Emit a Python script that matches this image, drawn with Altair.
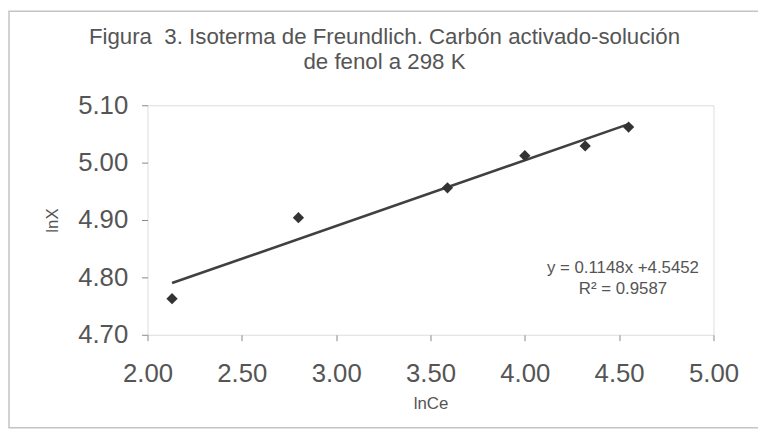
import altair as alt
import pandas as pd

# Data
lnCe = [2.13, 2.80, 3.59, 4.00, 4.32, 4.55]
lnX = [4.763, 4.904, 4.956, 5.012, 5.029, 5.062]
x_ticks = [2.0, 2.5, 3.0, 3.5, 4.0, 4.5, 5.0]
y_ticks = [4.70, 4.80, 4.90, 5.00, 5.10]
eq_lines = ["y = 0.1148x +4.5452", "R\u00b2 = 0.9587"]
eq_pos_x = [4.52, 4.52]
eq_pos_y = [4.817, 4.779]
title_line1 = "Figura \u00a03. Isoterma de Freundlich. Carbón activado-solución"
title_line2 = "de fenol a 298 K"

df = pd.DataFrame({"lnCe": lnCe, "lnX": lnX})
eq_df = pd.DataFrame({"t": eq_lines, "x": eq_pos_x, "y": eq_pos_y})

FONT = "Liberation Sans"
GRAY = "#555555"

xs = alt.Scale(domain=[2.0, 5.0], nice=False, zero=False)
ys = alt.Scale(domain=[4.70, 5.10], nice=False, zero=False)

xaxis = alt.Axis(values=x_ticks, format=".2f", title="lnCe", labelFontSize=26,
                 labelFont=FONT, labelColor=GRAY, titleFont=FONT, titleFontSize=17,
                 titleColor=GRAY, titleFontWeight="normal", grid=False, domain=False,
                 labelFlush=False, labelOverlap=False,
                 tickColor="#888888", tickSize=6, labelPadding=20, titlePadding=10)
yaxis = alt.Axis(values=y_ticks, format=".2f", title="lnX", labelFontSize=26,
                 labelFont=FONT, labelColor=GRAY, titleFont=FONT, titleFontSize=17,
                 titleColor=GRAY, titleFontWeight="normal", grid=False, domain=False,
                 labelFlush=False, labelOverlap=False,
                 tickColor="#888888", tickSize=6, labelPadding=14, titlePadding=16)

base = alt.Chart(df)

points = base.mark_point(shape="diamond", filled=True, size=130, color="#333333",
                         opacity=1).encode(
    x=alt.X("lnCe:Q", scale=xs, axis=xaxis),
    y=alt.Y("lnX:Q", scale=ys, axis=yaxis),
)

trend = base.transform_regression("lnCe", "lnX", method="linear").mark_line(
    color="#404040", strokeWidth=2.6).encode(
    x=alt.X("lnCe:Q", scale=xs),
    y=alt.Y("lnX:Q", scale=ys),
)

eq = alt.Chart(eq_df).mark_text(font=FONT, fontSize=17, color=GRAY,
                                align="center", baseline="middle").encode(
    x=alt.X("x:Q", scale=xs),
    y=alt.Y("y:Q", scale=ys),
    text="t:N",
)

one = pd.DataFrame({"a": [0]})
t1 = alt.Chart(one).mark_text(font=FONT, fontSize=22.5, color=GRAY, align="center",
                              baseline="alphabetic", text=title_line1).encode(
    x=alt.value(239.5), y=alt.value(-62))
t2 = alt.Chart(one).mark_text(font=FONT, fontSize=22.5, color=GRAY, align="center",
                              baseline="alphabetic", text=title_line2).encode(
    x=alt.value(239.5), y=alt.value(-37))

frame = alt.Chart(one).mark_rect(
    filled=False, stroke="#c4c4c4", strokeWidth=1.5).encode(
    x=alt.value(-140), x2=alt.value(640), y=alt.value(-95), y2=alt.value(326)
)

chart = alt.layer(frame, trend, points, eq, t1, t2).properties(
    width=572, height=232,
    autosize=alt.AutoSizeParams(type="none"),
    padding={"left": 141, "top": 96, "right": 45, "bottom": 97},
).configure_view(stroke="#777777", strokeWidth=1.5).configure(background="white")

chart.save("out.html", embed_options={"renderer": "svg", "actions": False})
